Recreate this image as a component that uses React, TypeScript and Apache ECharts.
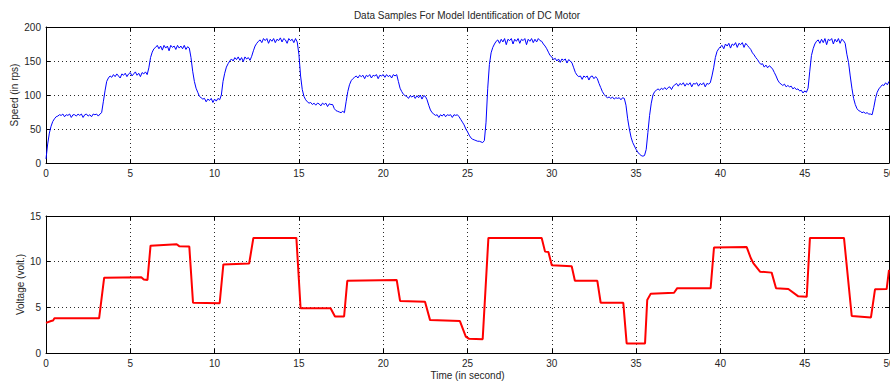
import React, { useEffect, useRef } from "react";
import * as echarts from "echarts";

// Motor speed (rps), sampled every 0.1 s from t = 0 to t = 50 s
const SAMPLE_STEP = 0.1;
const speedRps = [
  6, 28, 44, 54, 61, 65, 68, 69, 71, 70,
  72, 68, 71, 70, 72, 67, 71, 71, 69, 72,
  70, 72, 67, 71, 72, 69, 71, 68, 72, 71,
  72, 69, 72, 74, 90, 106, 120, 125, 128, 126,
  130, 127, 131, 128, 125, 131, 129, 132, 127, 131,
  133, 128, 131, 134, 129, 132, 127, 133, 131, 134,
  130, 140, 155, 163, 168, 170, 173, 168, 172, 166,
  173, 169, 172, 165, 173, 170, 172, 167, 173, 169,
  172, 168, 173, 167, 171, 169, 155, 135, 120, 110,
  104, 98, 96, 94, 95, 90, 94, 92, 95, 89,
  94, 91, 95, 93, 100, 120, 132, 141, 146, 150,
  153, 150, 155, 152, 156, 151, 155, 149, 156, 153,
  155, 151, 157, 165, 172, 176, 179, 181, 177, 183,
  180, 183, 176, 182, 179, 183, 177, 182, 180, 184,
  178, 183, 181, 176, 183, 180, 182, 177, 183, 178,
  160, 128, 108, 98, 93, 90, 88, 89, 86, 88,
  85, 88, 87, 84, 88, 86, 88, 83, 87, 86,
  86, 80, 77, 76, 75, 74, 76, 74, 90, 105,
  115, 121, 124, 126, 128, 125, 129, 127, 129, 124,
  129, 127, 130, 125, 129, 128, 130, 124, 129, 128,
  130, 126, 130, 127, 129, 125, 130, 128, 130, 120,
  110, 105, 101, 99, 98, 95, 99, 97, 99, 95,
  99, 96, 100, 94, 99, 98, 93, 85, 78, 74,
  72, 70, 71, 67, 71, 69, 72, 68, 71, 70,
  71, 67, 71, 70, 71, 68, 64, 60, 56, 50,
  46, 41, 37, 35, 34, 33, 32, 32, 31, 30,
  33, 60, 110, 145, 162, 170, 175, 179, 181, 176,
  182, 178, 183, 174, 182, 180, 183, 175, 182, 179,
  183, 176, 182, 180, 183, 174, 182, 179, 183, 177,
  182, 178, 183, 180, 179, 175, 172, 168, 163, 158,
  156, 152, 154, 150, 153, 148, 153, 151, 153, 147,
  152, 150, 147, 140, 133, 129, 127, 128, 123, 128,
  126, 128, 122, 127, 128, 124, 127, 124, 117, 111,
  105, 101, 98, 96, 97, 95, 97, 94, 96, 95,
  96, 93, 96, 95, 85, 65, 50, 38, 30, 25,
  20, 16, 13, 11, 10, 11, 20, 45, 70, 88,
  100, 105, 107, 109, 107, 110, 108, 111, 108, 111,
  112, 108, 113, 115, 117, 113, 117, 115, 118, 113,
  117, 115, 118, 112, 117, 116, 118, 113, 117, 115,
  118, 112, 117, 116, 118, 128, 140, 155, 164, 168,
  171, 173, 168, 175, 172, 176, 169, 175, 173, 177,
  170, 176, 174, 177, 170, 176, 173, 170, 167, 162,
  159, 155, 152, 148, 145, 146, 141, 144, 140, 143,
  141, 138, 133, 128, 122, 118, 116, 114, 116, 112,
  114, 112, 113, 109, 111, 108, 109, 106, 107, 103,
  106, 104, 110, 135, 158, 168, 175, 179, 181, 176,
  182, 177, 183, 174, 182, 180, 183, 175, 182, 178,
  183, 176, 182, 180, 176, 160, 148, 128, 110, 95,
  86, 80, 77, 76, 74, 75, 73, 74, 72, 72,
  71, 82, 95, 104, 109, 112, 115, 114, 118, 115,
  120,
];

// Applied voltage (volt.) at its break points, time in seconds
const voltTime = [
  0, 0.3, 0.42, 0.5, 3.15, 3.45, 5.65, 5.8, 6.02, 6.2,
  7.75, 7.9, 8.5, 8.72, 10.3, 10.52, 12.05, 12.3, 14.85, 15.1,
  16.88, 17.14, 17.68, 17.87, 20.8, 21.0, 22.48, 22.78, 24.55, 24.9,
  25.1, 25.9, 26.24, 29.4, 29.6, 29.8, 30.0, 31.18, 31.37, 32.7,
  32.9, 34.24, 34.44, 35.53, 35.66, 35.87, 37.25, 37.44, 39.42, 39.62,
  41.56, 41.8, 41.95, 42.35, 43.04, 43.3, 44.03, 44.62, 45.12, 45.31,
  47.33, 47.79, 48.93, 49.17, 49.86, 50,
];
const voltValue = [
  3.3, 3.5, 3.55, 3.8, 3.8, 8.25, 8.3, 8.05, 8.0, 11.75,
  11.9, 11.7, 11.65, 5.5, 5.45, 9.7, 9.8, 12.6, 12.6, 4.9,
  4.9, 4.0, 4.0, 7.9, 8.0, 5.7, 5.6, 3.6, 3.5, 1.8,
  1.55, 1.5, 12.6, 12.6, 11.1, 11.05, 9.6, 9.5, 7.92, 7.9,
  5.5, 5.5, 1.05, 1.05, 5.8, 6.5, 6.6, 7.1, 7.1, 11.55,
  11.6, 10.4, 9.85, 8.9, 8.8, 7.1, 7.0, 6.2, 6.15, 12.6,
  12.6, 4.05, 3.9, 6.97, 7.0, 9.1,
];

const timeTicks = { min: 0, max: 50, interval: 5 };
const speedTicks = { min: 0, max: 200, interval: 50 };
const voltTicks = { min: 0, max: 15, interval: 5 };

const FONT = "'Liberation Sans', Arial, sans-serif";
const TEXT = "#262626";
const GRID_LINE = { show: true, lineStyle: { color: "#2a2a2a", type: [1, 3], width: 1 } };

function xAxisPair(gridIndex: number, name?: string) {
  const base = {
    gridIndex,
    type: "value" as const,
    ...timeTicks,
    axisLine: { show: true, onZero: false, lineStyle: { color: "#000", width: 1 } },
    axisTick: { show: true, inside: true, length: 4, lineStyle: { color: "#000" } },
  };
  return [
    {
      ...base,
      position: "bottom",
      name,
      nameLocation: "middle",
      nameGap: 17,
      nameMoveOverlap: false,
      nameTextStyle: { color: TEXT, fontSize: 10, fontFamily: FONT },
      axisLabel: { color: TEXT, fontSize: 10, fontFamily: FONT, margin: 5 },
      splitLine: GRID_LINE,
    },
    {
      ...base,
      position: "top",
      axisLabel: { show: false },
      splitLine: { show: false },
    },
  ];
}

function yAxisPair(gridIndex: number, ticks: { min: number; max: number; interval: number }, name: string, nameGap: number) {
  const base = {
    gridIndex,
    type: "value" as const,
    ...ticks,
    axisLine: { show: true, onZero: false, lineStyle: { color: "#000", width: 1 } },
    axisTick: { show: true, inside: true, length: 4, lineStyle: { color: "#000" } },
  };
  return [
    {
      ...base,
      position: "left",
      name,
      nameLocation: "middle",
      nameGap,
      nameMoveOverlap: false,
      nameTextStyle: { color: TEXT, fontSize: 10, fontFamily: FONT },
      axisLabel: { color: TEXT, fontSize: 10, fontFamily: FONT, margin: 5 },
      splitLine: GRID_LINE,
    },
    {
      ...base,
      position: "right",
      axisLabel: { show: false },
      splitLine: { show: false },
    },
  ];
}

export default function App() {
  const ref = useRef<HTMLDivElement | null>(null);

  useEffect(() => {
    if (!ref.current) return;
    const chart = echarts.init(ref.current, null, { renderer: "svg" });

    const speedData = speedRps.map((v, i) => [Number((i * SAMPLE_STEP).toFixed(1)), v]);
    const voltData = voltTime.map((t, i) => [t, voltValue[i]]);

    chart.setOption({
      animation: false,
      backgroundColor: "#fff",
      graphic: [
        {
          type: "text",
          x: 467,
          y: 15,
          style: {
            text: "Data Samples For Model Identification of DC Motor",
            fill: TEXT,
            font: `10px ${FONT}`,
            textAlign: "center",
            textVerticalAlign: "middle",
          },
        },
      ],
      grid: [
        { left: 46, top: 27, width: 843, height: 136, show: false, containLabel: false, outerBoundsMode: "none" },
        { left: 46, top: 216, width: 843, height: 137, show: false, containLabel: false, outerBoundsMode: "none" },
      ],
      xAxis: [...xAxisPair(0), ...xAxisPair(1, "Time (in second)")],
      yAxis: [
        ...yAxisPair(0, speedTicks, "Speed (in rps)", 27),
        ...yAxisPair(1, voltTicks, "Voltage (volt.)", 21),
      ],
      series: [
        {
          type: "line",
          xAxisIndex: 0,
          yAxisIndex: 0,
          data: speedData,
          showSymbol: false,
          lineStyle: { color: "#0000ff", width: 1 },
          z: 5,
        },
        {
          type: "line",
          xAxisIndex: 2,
          yAxisIndex: 2,
          data: voltData,
          showSymbol: false,
          lineStyle: { color: "#ff0000", width: 2 },
          z: 5,
        },
      ],
    });

    return () => chart.dispose();
  }, []);

  return (
    <div
      ref={ref}
      style={{ position: "fixed", left: 0, top: 0, width: 890, height: 381, background: "#fff" }}
    />
  );
}
